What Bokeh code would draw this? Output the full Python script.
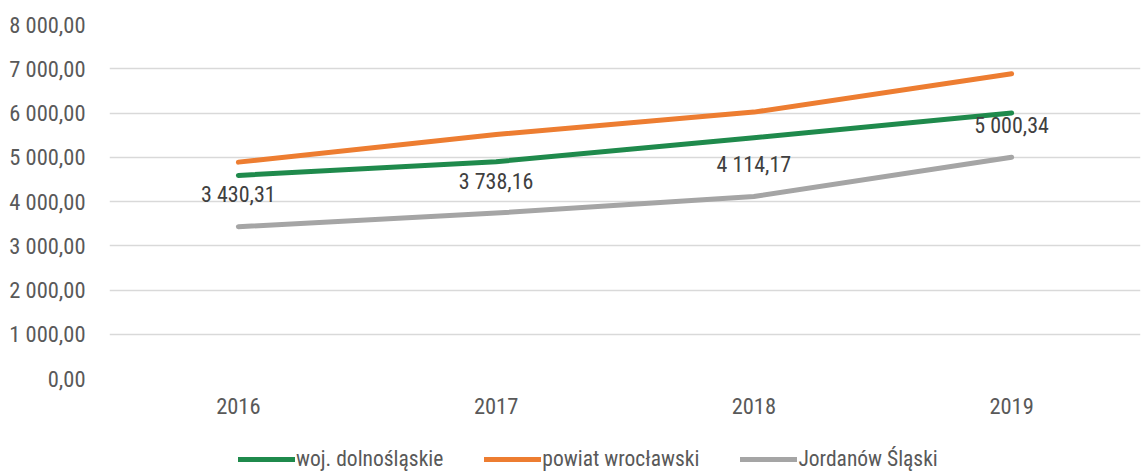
from bokeh.plotting import figure
from bokeh.layouts import column
from bokeh.models import (FactorRange, Range1d, FixedTicker, Legend, LegendItem,
                          ColumnDataSource)
from bokeh.core.properties import value
from bokeh.embed import file_html
from bokeh.resources import INLINE

years = ["2016", "2017", "2018", "2019"]
woj = [4590, 4900, 5440, 6000]
powiat = [4890, 5515, 6020, 6885]
jordanow = [3430.31, 3738.16, 4114.17, 5000.34]
jordanow_labels = ["3 430,31", "3 738,16", "4 114,17", "5 000,34"]
series_names = ["woj. dolnośląskie", "powiat wrocławski", "Jordanów Śląski"]
series_colors = ["#1F8A4C", "#ED7D31", "#A5A5A5"]
y_ticks = [0, 1000, 2000, 3000, 4000, 5000, 6000, 7000, 8000]
y_tick_labels = ["0,00", "1 000,00", "2 000,00", "3 000,00", "4 000,00",
                 "5 000,00", "6 000,00", "7 000,00", "8 000,00"]

FONT = "Roboto Condensed"

p = figure(width=1141, height=430, output_backend="svg", toolbar_location=None,
           x_range=FactorRange(*years, range_padding=0),
           y_range=Range1d(0, 8000),
           min_border_left=109, min_border_right=1, min_border_top=24,
           min_border_bottom=52)
p.outline_line_color = None

p.xgrid.grid_line_color = None
p.ygrid.grid_line_color = "#d9d9d9"
p.ygrid.grid_line_width = 1.5
p.yaxis.ticker = FixedTicker(ticks=y_ticks)
p.yaxis.major_label_overrides = {t: l for t, l in zip(y_ticks, y_tick_labels)}

for ax in (p.xaxis, p.yaxis):
    ax.axis_line_color = None
    ax.major_tick_line_color = None
    ax.minor_tick_line_color = None
    ax.major_label_text_font = FONT
    ax.major_label_text_color = "#595959"
p.yaxis.major_label_text_font_size = "22.5px"
p.xaxis.major_label_text_font_size = "22.5px"
p.yaxis.major_label_standoff = 18
p.xaxis.major_label_standoff = 13

src = ColumnDataSource(dict(x=years, woj=woj, powiat=powiat, jor=jordanow,
                            lab=jordanow_labels))
cols = ["woj", "powiat", "jor"]

for col, color in zip(cols, series_colors):
    p.line("x", col, source=src, line_color=color, line_width=5,
           line_cap="round", line_join="round")

p.text("x", "jor", text="lab", source=src, text_align="center",
       text_baseline="middle", y_offset=-32, text_font=value(FONT),
       text_font_size="22px", text_color="#404040")

# legend strip below the chart (its y-range lies far from the data, so the
# series themselves stay hidden there and only their legend glyphs show)
lg = figure(width=1141, height=41, output_backend="svg", toolbar_location=None,
            x_range=FactorRange(*years, range_padding=0),
            y_range=Range1d(-20000, -19000),
            min_border_left=109, min_border_right=1, min_border_top=0,
            min_border_bottom=0)
lg.axis.visible = False
lg.grid.visible = False
lg.outline_line_color = None
items = []
for col, name, color in zip(cols, series_names, series_colors):
    r = lg.line("x", col, source=src, line_color=color, line_width=5,
                line_cap="round")
    items.append(LegendItem(label=name, renderers=[r]))
legend = Legend(items=items, orientation="horizontal", location=(129, 0),
                glyph_width=57, label_standoff=1, spacing=41,
                padding=0, margin=0,
                label_text_font=FONT, label_text_font_size="21.5px",
                label_text_color="#595959", border_line_color=None,
                background_fill_alpha=0)
lg.add_layout(legend, "center")

layout = column(p, lg)
open("out.html", "w").write(file_html(layout, INLINE))
